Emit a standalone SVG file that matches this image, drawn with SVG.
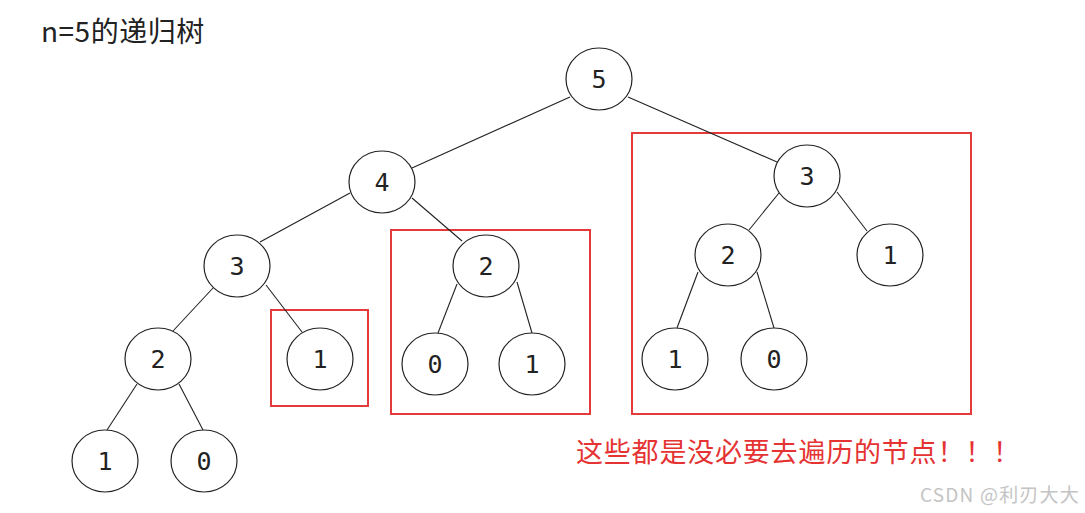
<svg xmlns="http://www.w3.org/2000/svg" width="1085" height="513" viewBox="0 0 1085 513">
<style>
.n ellipse{fill:#fff;stroke:#222;stroke-width:1.2}
.n text{font-family:"DejaVu Sans Mono",monospace;font-size:25px;fill:#222;text-anchor:middle}
.e line{stroke:#222;stroke-width:1.1}
.box{fill:none;stroke:#e53a3a;stroke-width:2}
.cj{font-family:"Noto Sans CJK SC","Noto Sans",sans-serif}
</style>
<rect width="1085" height="513" fill="#fff"/>
<text x="41" y="42" class="cj" font-size="28" letter-spacing="0.5" fill="#222">n=5的递归树</text>
<g id="boxes">
<rect class="box" x="271" y="310" width="97" height="96"/>
<rect class="box" x="391" y="230" width="199" height="184"/>
<rect class="box" x="632" y="133" width="339" height="281"/>
</g>
<g id="connectors" class="e">
<line x1="570" y1="97" x2="412" y2="168"/>
<line x1="628" y1="97" x2="777" y2="162"/>
<line x1="350" y1="193" x2="260" y2="242"/>
<line x1="412" y1="198" x2="462" y2="241"/>
<line x1="213" y1="288" x2="173" y2="331"/>
<line x1="266" y1="285" x2="302" y2="332"/>
<line x1="137" y1="384" x2="107" y2="430"/>
<line x1="179" y1="384" x2="203" y2="430"/>
<line x1="457" y1="284" x2="438" y2="333"/>
<line x1="517" y1="282" x2="532" y2="333"/>
<line x1="779" y1="193" x2="749" y2="230"/>
<line x1="837" y1="192" x2="867" y2="231"/>
<line x1="698" y1="272" x2="677" y2="328"/>
<line x1="757" y1="272" x2="774" y2="328"/>
</g>
<g id="n5" class="n"><ellipse cx="599" cy="79" rx="33" ry="31"/><text x="599" y="88">5</text></g>
<g id="n4" class="n"><ellipse cx="382" cy="182" rx="33" ry="31"/><text x="382" y="191">4</text></g>
<g id="n3a" class="n"><ellipse cx="237" cy="266" rx="33" ry="31"/><text x="237" y="275">3</text></g>
<g id="n2a" class="n"><ellipse cx="486" cy="266" rx="33" ry="31"/><text x="486" y="275">2</text></g>
<g id="n3b" class="n"><ellipse cx="807" cy="176" rx="33" ry="31"/><text x="807" y="185">3</text></g>
<g id="n2b" class="n"><ellipse cx="158" cy="359" rx="33" ry="31"/><text x="158" y="368">2</text></g>
<g id="n1a" class="n"><ellipse cx="320" cy="359" rx="33" ry="31"/><text x="320" y="368">1</text></g>
<g id="n0a" class="n"><ellipse cx="435" cy="364" rx="33" ry="31"/><text x="435" y="373">0</text></g>
<g id="n1b" class="n"><ellipse cx="532" cy="364" rx="33" ry="31"/><text x="532" y="373">1</text></g>
<g id="n2c" class="n"><ellipse cx="728" cy="255" rx="33" ry="31"/><text x="728" y="264">2</text></g>
<g id="n1c" class="n"><ellipse cx="890" cy="255" rx="33" ry="31"/><text x="890" y="264">1</text></g>
<g id="n1d" class="n"><ellipse cx="105" cy="461" rx="33" ry="31"/><text x="105" y="470">1</text></g>
<g id="n0b" class="n"><ellipse cx="204" cy="461" rx="33" ry="31"/><text x="204" y="470">0</text></g>
<g id="n1e" class="n"><ellipse cx="675" cy="359" rx="33" ry="31"/><text x="675" y="368">1</text></g>
<g id="n0c" class="n"><ellipse cx="774" cy="359" rx="33" ry="31"/><text x="774" y="368">0</text></g>
<text x="576" y="462" class="cj" font-size="27" letter-spacing="0.8" fill="#e53333">这些都是没必要去遍历的节点！！！</text>
<text x="920" y="502" class="cj" font-size="19" letter-spacing="1.2" fill="#c4c4c4">CSDN @利刃大大</text>
</svg>
